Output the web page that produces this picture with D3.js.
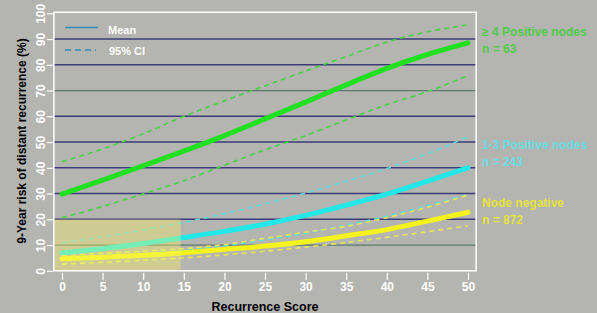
<!DOCTYPE html>
<html>
<head>
<meta charset="utf-8">
<script src="https://cdn.jsdelivr.net/npm/d3@7"></script>
<style>
  html, body { margin: 0; padding: 0; background: #b4b4b1; }
  svg { display: block; font-family: "Liberation Sans", Arial, sans-serif; }
</style>
</head>
<body>
<div id="chart"></div>
<script>
// recurrence score sample points
const scores = [0, 5, 10, 15, 20, 25, 30, 35, 40, 45, 50];

// >= 4 positive nodes
const posHighMean  = [29.8, 35.2, 40.8, 46.5, 52.5, 59.0, 65.5, 72.2, 78.6, 84.0, 88.5];
const posHighUpper = [42.4, 47.3, 53.2, 60.0, 66.0, 71.8, 77.6, 83.2, 88.8, 92.8, 95.5];
const posHighLower = [20.6, 25.0, 29.9, 35.0, 41.0, 47.0, 52.5, 58.6, 64.5, 69.6, 75.8];

// 1-3 positive nodes
const posLowMean  = [7.0, 8.6, 10.6, 12.9, 15.3, 18.1, 21.5, 25.5, 29.8, 34.8, 40.0];
const posLowUpper = [10.9, 13.2, 15.8, 18.8, 22.2, 26.0, 30.2, 34.8, 39.7, 45.5, 52.0];
const posLowLower = [4.3, 5.4, 6.6, 8.0, 9.7, 12.0, 14.6, 17.7, 21.2, 25.3, 29.6];

// node negative
const negMean  = [4.7, 5.3, 6.0, 7.0, 8.3, 9.6, 11.3, 13.6, 16.0, 19.3, 22.7];
const negUpper = [6.0, 6.8, 7.6, 8.6, 10.2, 12.6, 15.0, 17.3, 20.6, 24.7, 29.4];
const negLower = [2.6, 3.3, 4.1, 5.0, 6.2, 7.6, 9.2, 11.0, 13.0, 15.2, 17.5];

const xTicks = [0, 5, 10, 15, 20, 25, 30, 35, 40, 45, 50];
const yTicks = [0, 10, 20, 30, 40, 50, 60, 70, 80, 90, 100];
const gridValues = [10, 20, 30, 40, 50, 60, 70, 80, 90];

// shaded low-risk region
const shadeX = [-1, 14.6];
const shadeY = [0, 20];

const groupNames = ["≥ 4 Positive nodes", "1-3 Positive nodes", "Node negative"];
const groupCounts = ["n = 63", "n = 243", "n = 872"];

const width = 597, height = 313;

const x = d3.scaleLinear().domain([0, 50]).range([62, 468]);
const y = d3.scaleLinear().domain([0, 100]).range([270.8, 13.3]);

const svg = d3.select("#chart")
  .append("svg")
  .attr("width", width)
  .attr("height", height);

svg.append("rect")
  .attr("width", width)
  .attr("height", height)
  .attr("fill", "#b4b4b1");

const left = x(-1), right = x(51);

// grid lines
svg.append("g")
  .selectAll("line")
  .data(gridValues)
  .enter()
  .append("line")
  .attr("x1", left)
  .attr("x2", right)
  .attr("y1", d => y(d))
  .attr("y2", d => y(d))
  .attr("stroke", d => (d === 70 || d === 10) ? "#5d7a6c" : "#3c3c7c")
  .attr("stroke-width", d => (d === 70 || d === 10) ? 1.2 : 1.5);

// series
const series = [
  { mean: posHighMean, upper: posHighUpper, lower: posHighLower, color: "#20e020", ci: "#44d444" },
  { mean: posLowMean, upper: posLowUpper, lower: posLowLower, color: "#22e8e8", ci: "#5edcdc" },
  { mean: negMean, upper: negUpper, lower: negLower, color: "#f4f41c", ci: "#e6e65a" }
];

const line = d3.line()
  .x((d, i) => x(scores[i]))
  .y(d => y(d))
  .curve(d3.curveMonotoneX);

const plot = svg.append("g");

series.forEach(s => {
  [s.upper, s.lower].forEach(vals => {
    plot.append("path")
      .attr("d", line(vals))
      .attr("fill", "none")
      .attr("stroke", s.ci)
      .attr("stroke-width", 1.6)
      .attr("stroke-dasharray", "5,4");
  });
});
series.slice().reverse().forEach(s => {
  plot.append("path")
    .attr("d", line(s.mean))
    .attr("fill", "none")
    .attr("stroke", s.color)
    .attr("stroke-width", 5)
    .attr("stroke-linecap", "round");
});

// shaded box drawn over the lines
svg.append("rect")
  .attr("x", x(shadeX[0]))
  .attr("y", y(shadeY[1]))
  .attr("width", x(shadeX[1]) - x(shadeX[0]))
  .attr("height", y(shadeY[0]) - y(shadeY[1]))
  .attr("fill", "rgb(250,244,100)")
  .attr("fill-opacity", 0.38);

// frame
svg.append("rect")
  .attr("x", left)
  .attr("y", y(100) - 1)
  .attr("width", right - left)
  .attr("height", y(0) - y(100) + 1)
  .attr("fill", "none")
  .attr("stroke", "white")
  .attr("stroke-width", 1.5);

// x axis
const xAxis = d3.axisBottom(x).tickValues(xTicks).tickSize(7).tickPadding(3);
const gx = svg.append("g")
  .attr("transform", `translate(0, ${y(0) + 2})`)
  .call(xAxis);
gx.select(".domain").remove();
gx.selectAll("line").attr("stroke", "white").attr("stroke-width", 1.2);
gx.selectAll("text")
  .attr("fill", "white")
  .style("font-size", "12px")
  .style("font-weight", "bold");

// y axis
const yAxis = d3.axisLeft(y).tickValues(yTicks).tickSize(6);
const gy = svg.append("g")
  .attr("transform", `translate(${left - 1}, 0)`)
  .call(yAxis);
gy.select(".domain").remove();
gy.selectAll("line").attr("stroke", "white").attr("stroke-width", 1.2);
gy.selectAll("text")
  .attr("fill", "white")
  .attr("transform", "rotate(-90)")
  .attr("x", 0)
  .attr("y", -8)
  .attr("dy", 0)
  .style("text-anchor", "middle")
  .style("font-size", "12px")
  .style("font-weight", "bold");

// axis titles
svg.append("text")
  .attr("x", 265)
  .attr("y", 311)
  .attr("text-anchor", "middle")
  .style("font-size", "12.5px")
  .style("font-weight", "bold")
  .attr("fill", "black")
  .text("Recurrence Score");

svg.append("text")
  .attr("transform", "translate(26, 141) rotate(-90)")
  .attr("text-anchor", "middle")
  .style("font-size", "12px")
  .style("font-weight", "bold")
  .attr("fill", "black")
  .text("9-Year risk of distant recurrence (%)");

// legend
const legend = svg.append("g").attr("transform", "translate(65, 0)");
legend.append("line")
  .attr("x1", 0).attr("x2", 33).attr("y1", 27.5).attr("y2", 27.5)
  .attr("stroke", "#2e8cb4").attr("stroke-width", 1.3);
legend.append("line")
  .attr("x1", 0).attr("x2", 31).attr("y1", 50).attr("y2", 50)
  .attr("stroke", "#2e8cb4").attr("stroke-width", 1.3)
  .attr("stroke-dasharray", "6,4");
legend.append("text")
  .attr("x", 43).attr("y", 34)
  .attr("fill", "white").style("font-size", "11px").style("font-weight", "bold")
  .text("Mean");
legend.append("text")
  .attr("x", 44).attr("y", 55)
  .attr("fill", "white").style("font-size", "11px").style("font-weight", "bold")
  .text("95% CI");

// group labels on the right
const labelColors = ["#50cc48", "#6adce0", "#e4e43c"];
const labelY = [36, 149, 207];
groupNames.forEach((name, i) => {
  const t = svg.append("text")
    .attr("x", 482)
    .attr("y", labelY[i])
    .attr("fill", labelColors[i])
    .style("font-size", "12px")
    .style("font-weight", "bold");
  t.append("tspan").attr("x", 482).text(name);
  t.append("tspan").attr("x", 482).attr("dy", 17).text(groupCounts[i]);
});
</script>
</body>
</html>
